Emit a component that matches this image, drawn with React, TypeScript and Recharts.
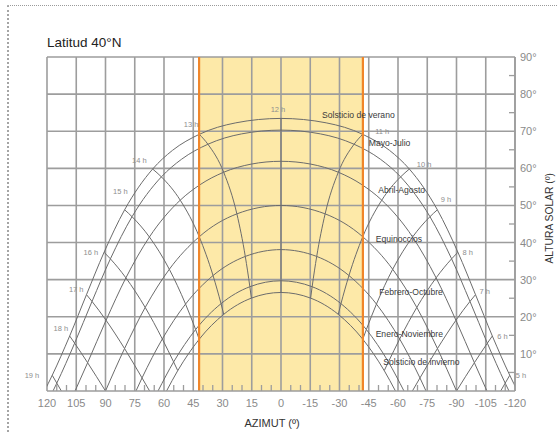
// Diagrama de trayectorias solares — Latitud 40°N

import React from 'react';
import { LineChart, Line, XAxis, YAxis, ReferenceArea, ReferenceLine, ReferenceDot } from 'recharts';

// ── tipos ──

type Pt = readonly [number, number]; // [azimut, altura]

// ── ejes ──

const X_MAJOR = [120, 105, 90, 75, 60, 45, 30, 15, 0, -15, -30, -45, -60, -75, -90, -105, -120];
const X_MINOR = [
  115, 110, 100, 95, 85, 80, 70, 65, 55, 50, 40, 35, 25, 20, 10, 5,
  -5, -10, -20, -25, -35, -40, -50, -55, -65, -70, -80, -85, -95, -100, -110, -115,
];
const Y_MAJOR = [10, 20, 30, 40, 50, 60, 70, 80, 90];
const Y_MINOR = [5, 15, 25, 35, 45, 55, 65, 75, 85];

// banda de azimut marcada
const BAND_LEFT = 42;
const BAND_RIGHT = -42;

// ── trayectorias diarias [azimut, altura] ──

const SOLSTICIO_VERANO: Pt[] = [
  [-121.3, 0], [-117.31, 4.24], [-108.38, 14.82], [-99.75, 25.96], [-90.72, 37.39],
  [-80.19, 48.83], [-65.83, 59.81], [-55.65, 64.84], [-41.88, 69.17], [-23.17, 72.26], [0, 73.45],
  [23.17, 72.26], [41.88, 69.17], [55.65, 64.84], [65.83, 59.81], [80.19, 48.83],
  [90.72, 37.39], [99.75, 25.96], [108.38, 14.82], [117.31, 4.24], [121.3, 0],
];

const MAYO_JULIO: Pt[] = [
  [-116.93, 0], [-114.97, 2.12], [-105.82, 12.89], [-96.91, 24.14], [-87.49, 35.61],
  [-76.39, 46.97], [-61.34, 57.7], [-50.94, 62.47], [-37.48, 66.49], [-20.24, 69.28], [0, 70.3],
  [20.24, 69.28], [37.48, 66.49], [50.94, 62.47], [61.34, 57.7], [76.39, 46.97],
  [87.49, 35.61], [96.91, 24.14], [105.82, 12.89], [114.97, 2.12], [116.93, 0],
];

const ABRIL_AGOSTO: Pt[] = [
  [-105.62, 0], [-99.17, 7.62], [-89.71, 19.06], [-79.54, 30.49], [-67.48, 41.5],
  [-51.67, 51.42], [-41.51, 55.59], [-29.39, 58.95], [-15.34, 61.13], [0, 61.9],
  [15.34, 61.13], [29.39, 58.95], [41.51, 55.59], [51.67, 51.42], [67.48, 41.5],
  [79.54, 30.49], [89.71, 19.06], [99.17, 7.62], [105.62, 0],
];

const EQUINOCCIOS: Pt[] = [
  [-90, 0], [-80.23, 11.44], [-69.64, 22.52], [-57.27, 32.8], [-41.93, 41.56], [-22.63, 47.73], [0, 50],
  [22.63, 47.73], [41.93, 41.56], [57.27, 32.8], [69.64, 22.52], [80.23, 11.44], [90, 0],
];

const FEBRERO_OCTUBRE: Pt[] = [
  [-74.38, 0], [-71.26, 3.52], [-60.86, 14.02], [-48.95, 23.42], [-34.85, 31.11], [-18.31, 36.26], [0, 38.1],
  [18.31, 36.26], [34.85, 31.11], [48.95, 23.42], [60.86, 14.02], [71.26, 3.52], [74.38, 0],
];

const ENERO_NOVIEMBRE: Pt[] = [
  [-63.07, 0], [-55.07, 7.83], [-43.78, 16.56], [-30.76, 23.53], [-15.97, 28.1], [0, 29.7],
  [15.97, 28.1], [30.76, 23.53], [43.78, 16.56], [55.07, 7.83], [63.07, 0],
];

const SOLSTICIO_INVIERNO: Pt[] = [
  [-58.7, 0], [-52.95, 5.49], [-41.94, 13.95], [-29.36, 20.66], [-15.19, 25.03], [0, 26.55],
  [15.19, 25.03], [29.36, 20.66], [41.94, 13.95], [52.95, 5.49], [58.7, 0],
];

const DAY_PATHS: Pt[][] = [
  SOLSTICIO_VERANO, MAYO_JULIO, ABRIL_AGOSTO, EQUINOCCIOS,
  FEBRERO_OCTUBRE, ENERO_NOVIEMBRE, SOLSTICIO_INVIERNO,
];

// ── líneas horarias (de verano a invierno / horizonte) ──

const HORA_12: Pt[] = [[0, 73.45], [0, 26.55]];
const HORA_13: Pt[] = [[41.88, 69.17], [37.48, 66.49], [29.39, 58.95], [22.63, 47.73], [18.31, 36.26], [15.97, 28.1], [15.19, 25.03]];
const HORA_14: Pt[] = [[65.83, 59.81], [61.34, 57.7], [51.67, 51.42], [41.93, 41.56], [34.85, 31.11], [30.76, 23.53], [29.36, 20.66]];
const HORA_15: Pt[] = [[80.19, 48.83], [76.39, 46.97], [67.48, 41.5], [57.27, 32.8], [48.95, 23.42], [43.78, 16.56], [41.94, 13.95]];
const HORA_16: Pt[] = [[90.72, 37.39], [87.49, 35.61], [79.54, 30.49], [69.64, 22.52], [60.86, 14.02], [55.07, 7.83], [52.95, 5.49]];
const HORA_17: Pt[] = [[99.75, 25.96], [96.91, 24.14], [89.71, 19.06], [80.23, 11.44], [71.26, 3.52], [67.37, 0]];
const HORA_18: Pt[] = [[108.38, 14.82], [105.82, 12.89], [99.17, 7.62], [90, 0]];
const HORA_19: Pt[] = [[117.31, 4.24], [114.97, 2.12], [112.63, 0]];
const HORA_11: Pt[] = [[-41.88, 69.17], [-37.48, 66.49], [-29.39, 58.95], [-22.63, 47.73], [-18.31, 36.26], [-15.97, 28.1], [-15.19, 25.03]];
const HORA_10: Pt[] = [[-65.83, 59.81], [-61.34, 57.7], [-51.67, 51.42], [-41.93, 41.56], [-34.85, 31.11], [-30.76, 23.53], [-29.36, 20.66]];
const HORA_9: Pt[] = [[-80.19, 48.83], [-76.39, 46.97], [-67.48, 41.5], [-57.27, 32.8], [-48.95, 23.42], [-43.78, 16.56], [-41.94, 13.95]];
const HORA_8: Pt[] = [[-90.72, 37.39], [-87.49, 35.61], [-79.54, 30.49], [-69.64, 22.52], [-60.86, 14.02], [-55.07, 7.83], [-52.95, 5.49]];
const HORA_7: Pt[] = [[-99.75, 25.96], [-96.91, 24.14], [-89.71, 19.06], [-80.23, 11.44], [-71.26, 3.52], [-67.37, 0]];
const HORA_6: Pt[] = [[-108.38, 14.82], [-105.82, 12.89], [-99.17, 7.62], [-90, 0]];
const HORA_5: Pt[] = [[-117.31, 4.24], [-114.97, 2.12], [-112.63, 0]];

const HOUR_LINES: { hora: string; pts: Pt[] }[] = [
  { hora: '12 h', pts: HORA_12 },
  { hora: '13 h', pts: HORA_13 },
  { hora: '14 h', pts: HORA_14 },
  { hora: '15 h', pts: HORA_15 },
  { hora: '16 h', pts: HORA_16 },
  { hora: '17 h', pts: HORA_17 },
  { hora: '18 h', pts: HORA_18 },
  { hora: '19 h', pts: HORA_19 },
  { hora: '11 h', pts: HORA_11 },
  { hora: '10 h', pts: HORA_10 },
  { hora: '9 h', pts: HORA_9 },
  { hora: '8 h', pts: HORA_8 },
  { hora: '7 h', pts: HORA_7 },
  { hora: '6 h', pts: HORA_6 },
  { hora: '5 h', pts: HORA_5 },
];

// nombres de las trayectorias, centrados en [azimut, altura]
const DAY_LABELS: { text: string; at: Pt }[] = [
  { text: 'Solsticio de verano', at: [-39.7, 74.4] },
  { text: 'Mayo-Julio', at: [-55.7, 66.7] },
  { text: 'Abril-Agosto', at: [-61.9, 54.2] },
  { text: 'Equinoccios', at: [-60.5, 41.0] },
  { text: 'Febrero-Octubre', at: [-66.7, 26.7] },
  { text: 'Enero-Noviembre', at: [-65.8, 15.4] },
  { text: 'Solsticio de invierno', at: [-72.0, 7.8] },
];

// ── estilo ──

const FONT = '"Liberation Sans", Arial, Helvetica, sans-serif';
const GRID = '#9d9d9d';
const CURVE = '#6c6c6c';
const YELLOW = '#fde9a8';
const ORANGE = '#f0862a';
const TICK_TEXT = '#8a8a8a';

// desplazamiento (px) de cada etiqueta horaria respecto al punto de verano
const HOUR_LABEL_POS: Record<string, [number, number, 'start' | 'middle' | 'end']> = {
  '12 h': [-3, -8.5, 'middle'],
  '13 h': [-1, -10, 'end'],
  '14 h': [-6, -8.5, 'end'],
  '15 h': [3, -18, 'end'],
  '16 h': [-6, 0.5, 'end'],
  '17 h': [-3, -5, 'end'],
  '18 h': [-1.5, -8, 'end'],
  '19 h': [-13, 0, 'end'],
  '11 h': [12.5, -3, 'start'],
  '10 h': [7.5, -4.5, 'start'],
  '9 h': [3.5, -10, 'start'],
  '8 h': [4.5, 0.5, 'start'],
  '7 h': [4, -3, 'start'],
  '6 h': [5, 0, 'start'],
  '5 h': [6, 0, 'start'],
};

const toRows = (pts: Pt[]) => pts.map(([az, alt]) => ({ az, alt }));

// ── marcas de los ejes ──

function BottomTick(props: any) {
  const { x, y, payload } = props;
  const v = payload.value as number;
  if (X_MAJOR.includes(v)) {
    return (
      <text x={x} y={y + 16} textAnchor="middle" fontSize={11} fill={TICK_TEXT} fontFamily={FONT}>
        {v}
      </text>
    );
  }
  return <line x1={x} y1={y} x2={x} y2={y - 6} stroke={GRID} strokeWidth={1.3} />;
}

function TopTick(props: any) {
  const { x, y } = props;
  return <line x1={x} y1={y} x2={x} y2={y + 6} stroke={GRID} strokeWidth={1.3} />;
}

function RightTick(props: any) {
  const { x, y, payload } = props;
  const v = payload.value as number;
  if (Y_MAJOR.includes(v)) {
    return (
      <text x={x + 5} y={y + 4} textAnchor="start" fontSize={11} fill={TICK_TEXT} fontFamily={FONT}>
        {`${v}°`}
      </text>
    );
  }
  if (v === 0) return <g />;
  return <line x1={x} y1={y} x2={x - 6} y2={y} stroke={GRID} strokeWidth={1.3} />;
}

function LeftTick(props: any) {
  const { x, y } = props;
  return <line x1={x} y1={y} x2={x + 6} y2={y} stroke={GRID} strokeWidth={1.3} />;
}

// ── componente principal ──

export default function App() {
  const axisLine = { stroke: GRID, strokeWidth: 1.6 };

  return (
    <div style={{ position: 'absolute', left: 0, top: 0, width: 557, height: 432, background: '#fff', overflow: 'hidden' }}>
      {/* marco punteado */}
      <div
        style={{
          position: 'absolute', left: 7, top: 5, width: 570, height: 450,
          borderTop: '1px dotted #9a9a9a', borderLeft: '2px dotted #a5a5a5',
        }}
      />

      <div style={{ position: 'absolute', left: 0, top: 0 }}>
        <LineChart width={557} height={432} margin={{ top: 57, right: 2, bottom: 16, left: 47 }}>
          <XAxis
            xAxisId={0}
            dataKey="az"
            type="number"
            domain={[-120, 120]}
            reversed
            allowDataOverflow
            ticks={[...X_MAJOR, ...X_MINOR]}
            interval={0}
            tickSize={0}
            tickMargin={0}
            tickLine={false}
            axisLine={axisLine}
            tick={<BottomTick />}
            height={25}
          />
          <XAxis
            xAxisId="top"
            orientation="top"
            type="number"
            domain={[-120, 120]}
            reversed
            allowDataOverflow
            ticks={X_MINOR}
            interval={0}
            tickSize={0}
            tickMargin={0}
            tickLine={false}
            axisLine={axisLine}
            tick={<TopTick />}
            height={0}
          />
          <YAxis
            yAxisId={0}
            orientation="right"
            type="number"
            domain={[0, 90]}
            allowDataOverflow
            ticks={[0, ...Y_MAJOR, ...Y_MINOR]}
            interval={0}
            tickSize={0}
            tickMargin={0}
            tickLine={false}
            axisLine={axisLine}
            tick={<RightTick />}
            width={40}
          />
          <YAxis
            yAxisId="left"
            orientation="left"
            type="number"
            domain={[0, 90]}
            allowDataOverflow
            ticks={Y_MINOR}
            interval={0}
            tickSize={0}
            tickMargin={0}
            tickLine={false}
            axisLine={axisLine}
            tick={<LeftTick />}
            width={0}
          />

          {/* banda amarilla */}
          <ReferenceArea
            x1={BAND_RIGHT}
            x2={BAND_LEFT}
            y1={0}
            y2={90}
            fill={YELLOW}
            fillOpacity={1}
            stroke="none"
          />

          {/* rejilla */}
          {X_MAJOR.map((v) => (
            <ReferenceLine key={`gx${v}`} x={v} stroke={GRID} strokeWidth={1.6} />
          ))}
          {Y_MAJOR.map((v) => (
            <ReferenceLine key={`gy${v}`} y={v} stroke={GRID} strokeWidth={1.6} />
          ))}

          {/* trayectorias diarias */}
          {DAY_PATHS.map((pts, i) => (
            <Line
              key={`d${i}`}
              data={toRows(pts)}
              dataKey="alt"
              type="monotone"
              stroke={CURVE}
              strokeWidth={1}
              dot={false}
              activeDot={false}
              isAnimationActive={false}
            />
          ))}

          {/* líneas horarias */}
          {HOUR_LINES.map((h) => (
            <Line
              key={h.hora}
              data={toRows(h.pts)}
              dataKey="alt"
              type={h.pts.length > 2 ? 'monotone' : 'linear'}
              stroke={CURVE}
              strokeWidth={1}
              dot={false}
              activeDot={false}
              isAnimationActive={false}
            />
          ))}

          {/* límites de la banda */}
          <ReferenceLine x={BAND_LEFT} stroke={ORANGE} strokeWidth={2.2} />
          <ReferenceLine x={BAND_RIGHT} stroke={ORANGE} strokeWidth={2.2} />

          {/* etiquetas horarias */}
          {HOUR_LINES.map((h) => {
            const [dx, dy, anchor] = HOUR_LABEL_POS[h.hora];
            const [az, alt] = h.pts[0];
            return (
              <ReferenceDot
                key={`l${h.hora}`}
                x={az}
                y={alt}
                r={0}
                shape={(p: any) => (
                  <text
                    x={p.cx + dx}
                    y={p.cy + dy + 2.5}
                    textAnchor={anchor}
                    fontSize={7.5}
                    fill="#8e8e8e"
                    fontFamily={FONT}
                  >
                    {h.hora}
                  </text>
                )}
              />
            );
          })}

          {/* nombres de las trayectorias */}
          {DAY_LABELS.map((d) => (
            <ReferenceDot
              key={d.text}
              x={d.at[0]}
              y={d.at[1]}
              r={0}
              shape={(p: any) => (
                <text
                  x={p.cx}
                  y={p.cy + 3}
                  textAnchor="middle"
                  fontSize={8.6}
                  fill="#3a3a3a"
                  fontFamily={FONT}
                >
                  {d.text}
                </text>
              )}
            />
          ))}
        </LineChart>
      </div>

      {/* títulos */}
      <svg width={557} height={432} style={{ position: 'absolute', left: 0, top: 0, pointerEvents: 'none' }}>
        <text x={47} y={46.6} fontSize={13.5} fill="#222" fontFamily={FONT}>
          Latitud 40°N
        </text>
        <text x={272} y={426.6} textAnchor="middle" fontSize={11} fill="#333" fontFamily={FONT}>
          AZIMUT (º)
        </text>
        <text
          transform="translate(552.6,218.3) rotate(-90)"
          textAnchor="middle"
          fontSize={10.3}
          fill="#333"
          fontFamily={FONT}
        >
          ALTURA SOLAR (º)
        </text>
      </svg>
    </div>
  );
}
